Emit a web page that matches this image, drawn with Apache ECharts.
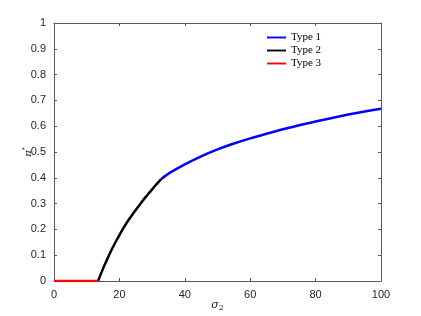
<!DOCTYPE html>
<html>
<head>
<meta charset="utf-8">
<script src="https://cdn.jsdelivr.net/npm/echarts@6/dist/echarts.min.js"></script>
<style>html,body{margin:0;padding:0;background:#fff}#c{width:421px;height:316px}</style>
</head>
<body>
<div id="c"></div>
<script>
const xTicks = [0, 20, 40, 60, 80, 100];
const yTicks = [0, 0.1, 0.2, 0.3, 0.4, 0.5, 0.6, 0.7, 0.8, 0.9, 1];
const seriesNames = ['Type 1', 'Type 2', 'Type 3'];
const type1 = [[32.7,0.394],[35,0.416],[40,0.452],[45,0.483],[50,0.510],[55,0.533],[60,0.553],[65,0.571],[70,0.588],[75,0.604],[80,0.618],[85,0.632],[90,0.645],[95,0.657],[100,0.668]];
const type2 = [[13.5,0],[14,0.017],[15,0.048],[16,0.077],[17,0.105],[18,0.131],[19,0.155],[20,0.178],[21,0.200],[22,0.221],[23,0.240],[24,0.258],[25,0.275],[26,0.292],[27,0.309],[28,0.325],[29,0.340],[30,0.355],[31,0.370],[32,0.384],[32.7,0.394]];
const type3 = [[0,0],[13.5,0]];

const chart = echarts.init(document.getElementById('c'), null, {renderer:'canvas'});
const axisCol = '#5a5a5a';
const lblStyle = {color:'#262626', fontSize:11, fontFamily:'Liberation Sans, Arial, sans-serif'};
const base = {
  axisLine:{show:true, onZero:false, lineStyle:{color:axisCol, width:1}},
  axisTick:{show:true, inside:true, length:3, lineStyle:{color:axisCol}},
  splitLine:{show:false}
};
chart.setOption({
  animation:false,
  grid:{left:54, right:40, top:23, bottom:35, outerBoundsMode:'none', containLabel:false},
  legend:{
    orient:'vertical', left:262, top:27, itemGap:2,
    itemWidth:19, itemHeight:11, icon:'path://M0,4L20,4L20,6L0,6Z',
    textStyle:{fontFamily:'Liberation Serif, Times New Roman, serif', fontSize:11, color:'#000'},
    data:seriesNames
  },
  xAxis:[
    Object.assign({type:'value', min:0, max:100, interval:20, position:'bottom',
      axisLabel:Object.assign({margin:8, formatter:v=>xTicks.includes(v)?String(v):''}, lblStyle),
      name:'{a|σ}{b|2}', nameLocation:'middle', nameGap:17, nameMoveOverlap:false,
      nameTextStyle:{rich:{a:{fontFamily:'DejaVu Serif, serif', fontStyle:'italic', fontSize:11, color:'#262626'}, b:{fontFamily:'DejaVu Serif, serif', fontSize:8, color:'#262626', padding:[6,0,0,0]}}}
    }, base),
    Object.assign({type:'value', min:0, max:100, interval:20, position:'top', axisLabel:{show:false}}, base)
  ],
  yAxis:[
    Object.assign({type:'value', min:0, max:1, interval:0.1, position:'left',
      axisLabel:Object.assign({margin:8, formatter:v=>{const r=Math.round(v*10)/10; return yTicks.includes(r)?String(r):'';}}, lblStyle),
      name:'{a|π}{s|*}', nameLocation:'middle', nameGap:19, nameRotate:90, nameMoveOverlap:false,
      nameTextStyle:{rich:{a:{fontFamily:'DejaVu Serif, serif', fontStyle:'italic', fontSize:10, color:'#262626'}, s:{fontSize:8, color:'#262626', padding:[0,0,6,0]}}}
    }, base),
    Object.assign({type:'value', min:0, max:1, interval:0.1, position:'right', axisLabel:{show:false}}, base)
  ],
  series:[
    {name:seriesNames[0], type:'line', data:type1, showSymbol:false, smooth:0.3, lineStyle:{color:'#0000ff', width:2.5}, itemStyle:{color:'#0000ff'}, z:3},
    {name:seriesNames[1], type:'line', data:type2, showSymbol:false, smooth:0.2, lineStyle:{color:'#000000', width:2.5}, itemStyle:{color:'#000000'}, z:3},
    {name:seriesNames[2], type:'line', data:type3, showSymbol:false, lineStyle:{color:'#ff0000', width:2.5}, itemStyle:{color:'#ff0000'}, z:3}
  ]
});
</script>
</body>
</html>
